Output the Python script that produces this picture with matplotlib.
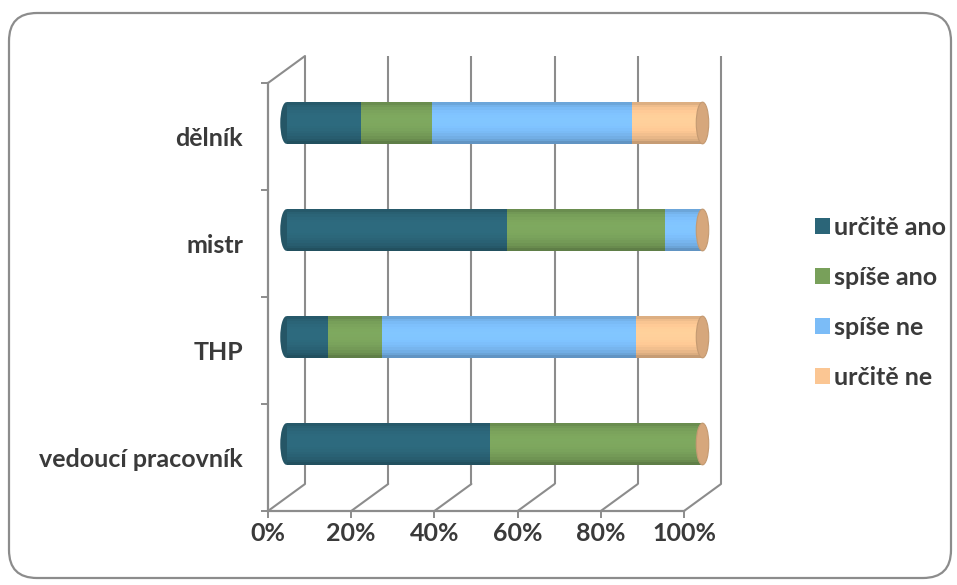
import matplotlib
matplotlib.use('Agg')
import matplotlib.pyplot as plt
import numpy as np
from matplotlib.patches import Patch, Ellipse, FancyBboxPatch, ConnectionPatch
from matplotlib.transforms import Affine2D

plt.rcParams['font.family'] = ['Lato', 'DejaVu Sans']
plt.rcParams['font.weight'] = 'bold'

# data (shares in %)
categories = ['dělník', 'mistr', 'THP', 'vedoucí pracovník']
series = ['určitě ano', 'spíše ano', 'spíše ne', 'určitě ne']
urcite_ano = [18, 53, 10, 49]
spise_ano = [17, 38, 13, 51]
spise_ne = [48, 9, 61, 0]
urcite_ne = [17, 0, 16, 0]
xtick_vals = [0, 20, 40, 60, 80, 100]
xtick_labels = ['0%', '20%', '40%', '60%', '80%', '100%']

colors = ['#2b6578', '#78a05a', '#7bbcf7', '#fbc693']
cap_color = '#d6a77c'
grid_c = '#8c8c8c'
text_c = '#3a3a3a'
fs = 18

fig = plt.figure(figsize=(9.57, 5.85), dpi=100)
fig.patches.append(FancyBboxPatch((9, 7), 942, 565, boxstyle='round,pad=0,rounding_size=28',
                                  transform=None, facecolor='none', edgecolor=grid_c,
                                  linewidth=1.6, figure=fig, zorder=-1))

ax = fig.add_axes([268 / 957, 74 / 585, 416 / 957, 428 / 585])
ax.set_xlim(0, 100)
ax.set_ylim(0, 4)
ax.patch.set_visible(False)

# depth offsets for the back wall and the bar mid-plane (pixels)
back = ax.transData + Affine2D().translate(37, 27)
mid = ax.transData + Affine2D().translate(18.5, 13.5)

# back wall gridlines
ax.vlines(xtick_vals, 0, 4, colors=grid_c, lw=1.5, transform=back, clip_on=False, zorder=1)
# floor diagonals and top-left edge
for xv in xtick_vals:
    ax.add_artist(ConnectionPatch((xv, 0), (xv, 0), coordsA=ax.transData, coordsB=back,
                                  color=grid_c, lw=1.5, zorder=1))
ax.add_artist(ConnectionPatch((0, 4), (0, 4), coordsA=ax.transData, coordsB=back,
                              color=grid_c, lw=1.5, zorder=1))

# cylinders
ys = np.array([3.5, 2.5, 1.5, 0.5])
h = 0.39
cap_w = 3.0
values = [urcite_ano, spise_ano, spise_ne, urcite_ne]
n_strip = 16
edges = np.linspace(-1, 1, n_strip + 1)
for i, y in enumerate(ys):
    ax.add_patch(Ellipse((0, y), cap_w, h, transform=mid, facecolor=np.array(
        matplotlib.colors.to_rgb(colors[0])) * 0.85, edgecolor='none', clip_on=False, zorder=2))
    left = 0
    for s, vals in enumerate(values):
        v = vals[i]
        if v <= 0:
            continue
        base = np.array(matplotlib.colors.to_rgb(colors[s]))
        for k in range(n_strip):
            t = (edges[k] + edges[k + 1]) / 2
            f = 0.72 + 0.33 * np.sqrt(1 - t ** 2) + 0.05 * t
            c = np.clip(base * f, 0, 1)
            ax.barh(y + t * h / 2, v, height=h / n_strip * 1.05, left=left, color=c,
                    edgecolor='none', transform=mid, clip_on=False, zorder=3)
        left += v
    ax.add_patch(Ellipse((left, y), cap_w, h, transform=mid, facecolor=cap_color,
                         edgecolor='#c49a72', lw=0.8, clip_on=False, zorder=4))

# axes
for side in ['top', 'right']:
    ax.spines[side].set_visible(False)
for side in ['left', 'bottom']:
    ax.spines[side].set_color(grid_c)
    ax.spines[side].set_linewidth(1.6)
ax.set_xticks(xtick_vals)
ax.set_xticklabels(xtick_labels)
ax.set_yticks([0, 1, 2, 3, 4])
ax.set_yticklabels([])
ax.set_yticks(ys, minor=True)
ax.set_yticklabels(categories, minor=True)
ax.tick_params(axis='y', which='major', length=5, width=1.4, color=grid_c)
ax.tick_params(axis='y', which='minor', length=0, pad=18, labelsize=fs, labelcolor=text_c)
ax.tick_params(axis='x', length=5, width=1.4, color=grid_c, pad=3, labelsize=fs, labelcolor=text_c)
for lab in ax.get_xticklabels() + ax.get_yticklabels(minor=True):
    lab.set_fontweight('bold')

handles = [Patch(facecolor=c, edgecolor='none') for c in colors]
fig.legend(handles, series, loc='center left', bbox_to_anchor=(802 / 957, 1 - 302 / 585),
           frameon=False, handlelength=0.6, handleheight=0.6,
           handletextpad=0.2, labelspacing=1.08, borderpad=0, labelcolor=text_c,
           prop={'weight': 'bold', 'size': fs})

fig.savefig('out.png', dpi=100)
